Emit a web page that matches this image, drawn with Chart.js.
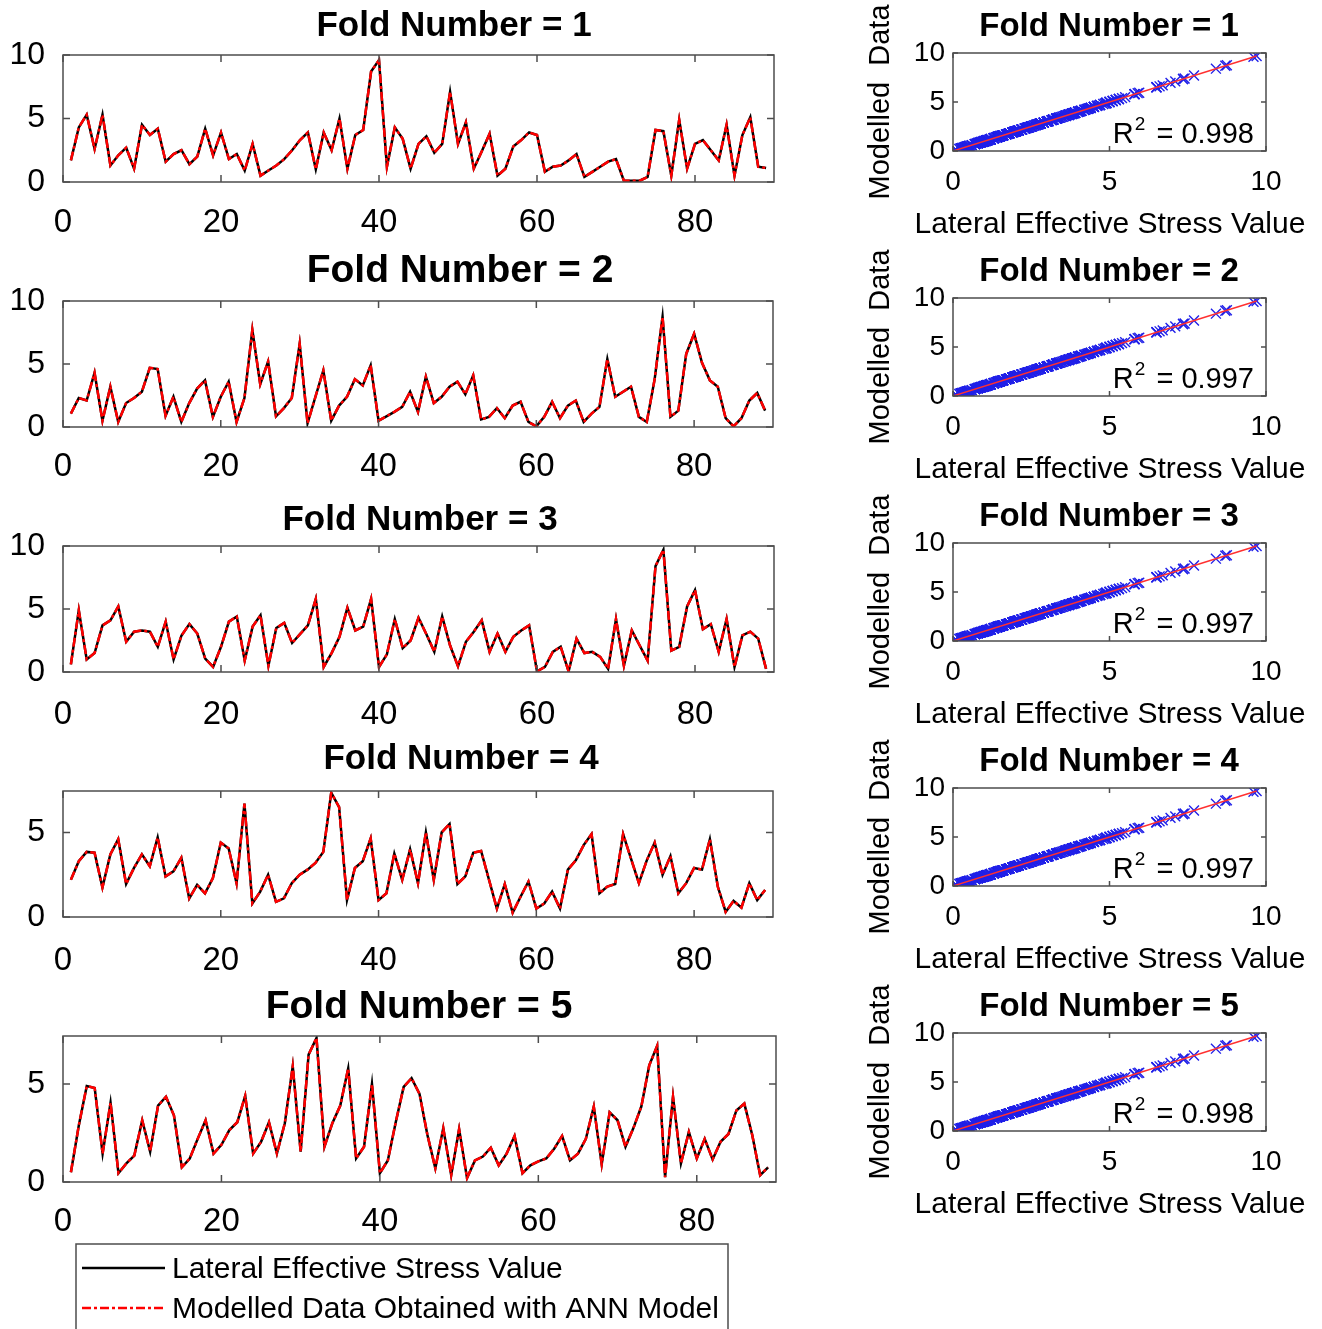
<!DOCTYPE html>
<html>
<head>
<meta charset="utf-8">
<title>Fold comparison</title>
<script src="https://cdn.jsdelivr.net/npm/chart.js@4.4.0/dist/chart.umd.min.js"></script>
<style>
  html, body { margin: 0; padding: 0; background: #fff; }
  #page { position: relative; width: 1322px; height: 1329px; overflow: hidden; background: #fff; }
  #page canvas { position: absolute; }
</style>
</head>
<body>
<div id="page"></div>
<script>
// sample number along the x axis of the left panels
const sampleIndex = Array.from({length: 89}, (_, i) => i + 1);

const stressFold1 = [1.7, 4.3, 5.3, 2.6, 5.3, 1.3, 2.1, 2.7, 1.05, 4.5, 3.7, 4.2, 1.6, 2.2, 2.5, 1.4, 2.0, 4.2, 2.1, 3.9,
    1.8, 2.2, 0.9, 3.0, 0.5, 0.9, 1.3, 1.8, 2.5, 3.3, 3.9, 1.0, 3.9, 2.5, 5.0, 1.05, 3.7, 4.1, 8.7, 9.6,
    1.2, 4.3, 3.4, 1.05, 3.0, 3.6, 2.3, 3.0, 7.1, 3.0, 4.7, 1.05, 2.4, 3.8, 0.5, 1.05, 2.8, 3.3, 3.9, 3.7,
    0.8, 1.2, 1.3, 1.7, 2.2, 0.4, 0.8, 1.2, 1.6, 1.8, 0.1, 0.1, 0.1, 0.4, 4.1, 4.0, 0.5, 4.9, 1.05, 3.0,
    3.3, 2.5, 1.7, 4.5, 0.5, 3.7, 5.1, 1.2, 1.1];
const stressFold2 = [1.06, 2.3, 2.1, 4.3, 0.5, 3.2, 0.4, 1.9, 2.3, 2.8, 4.7, 4.6, 0.9, 2.4, 0.4, 1.9, 3.05, 3.7, 0.8, 2.4,
    3.6, 0.4, 2.3, 7.7, 3.4, 5.2, 0.85, 1.5, 2.3, 6.6, 0.3, 2.4, 4.5, 0.5, 1.7, 2.4, 3.8, 3.3, 4.9, 0.5,
    0.85, 1.2, 1.6, 2.8, 1.2, 4.0, 1.9, 2.4, 3.2, 3.6, 2.6, 4.1, 0.6, 0.8, 1.5, 0.7, 1.7, 2.0, 0.4, 0.05,
    0.8, 2.0, 0.7, 1.7, 2.1, 0.4, 1.06, 1.6, 5.4, 2.4, 2.8, 3.2, 0.8, 0.4, 3.8, 8.75, 0.8, 1.3, 5.8, 7.4,
    5.1, 3.7, 3.2, 0.7, 0.05, 0.7, 2.1, 2.7, 1.3];
const stressFold3 = [0.6, 4.9, 1.0, 1.5, 3.7, 4.1, 5.2, 2.4, 3.2, 3.3, 3.2, 2.0, 4.0, 1.0, 2.9, 3.8, 3.05, 1.06, 0.4, 2.0,
    4.0, 4.4, 0.9, 3.6, 4.5, 0.5, 3.5, 3.9, 2.3, 3.0, 3.7, 5.8, 0.4, 1.5, 2.8, 5.1, 3.3, 3.6, 5.8, 0.4,
    1.4, 4.2, 1.9, 2.5, 4.3, 3.0, 1.6, 4.4, 2.1, 0.45, 2.4, 3.2, 4.1, 1.6, 3.05, 1.6, 2.8, 3.3, 3.7, 0.05,
    0.4, 1.6, 2.0, 0.05, 2.65, 1.5, 1.6, 1.2, 0.25, 4.2, 0.5, 3.3, 2.1, 0.9, 8.4, 9.7, 1.7, 2.0, 5.2, 6.5,
    3.4, 3.8, 1.6, 4.2, 0.4, 2.9, 3.2, 2.65, 0.25];
const stressFold4 = [2.2, 3.3, 3.85, 3.8, 1.75, 3.7, 4.6, 1.95, 2.9, 3.7, 3.0, 4.7, 2.4, 2.7, 3.5, 1.1, 1.9, 1.4, 2.3, 4.4,
    4.05, 2.0, 6.7, 0.8, 1.5, 2.5, 0.9, 1.1, 2.0, 2.5, 2.8, 3.2, 3.85, 7.35, 6.5, 1.0, 2.9, 3.3, 4.65, 1.0,
    1.4, 3.75, 2.2, 4.0, 2.0, 5.0, 2.2, 5.0, 5.5, 1.95, 2.4, 3.8, 3.9, 2.2, 0.5, 1.95, 0.25, 1.2, 2.1, 0.5,
    0.8, 1.5, 0.5, 2.8, 3.35, 4.25, 4.9, 1.4, 1.8, 1.95, 4.9, 3.45, 2.0, 3.35, 4.4, 2.5, 3.6, 1.4, 2.0, 2.9,
    2.8, 4.6, 1.8, 0.3, 0.95, 0.55, 2.0, 1.0, 1.6];
const stressFold5 = [0.5, 2.9, 4.9, 4.8, 1.45, 4.05, 0.45, 0.95, 1.35, 3.15, 1.55, 3.9, 4.35, 3.4, 0.75, 1.2, 2.2, 3.15, 1.45, 1.9,
    2.65, 3.05, 4.4, 1.45, 2.05, 3.05, 1.45, 3.0, 5.9, 1.55, 6.5, 7.35, 1.8, 3.0, 3.9, 5.8, 1.2, 1.8, 5.0, 0.45,
    1.1, 3.05, 4.85, 5.3, 4.5, 2.4, 0.7, 2.75, 0.35, 2.7, 0.2, 1.1, 1.3, 1.75, 0.85, 1.45, 2.35, 0.45, 0.85, 1.05,
    1.2, 1.7, 2.35, 1.1, 1.45, 2.2, 3.85, 0.9, 3.55, 3.15, 1.8, 2.75, 3.85, 5.95, 6.95, 0.25, 4.35, 0.95, 2.55, 1.2,
    2.2, 1.15, 2.05, 2.45, 3.65, 4.0, 2.4, 0.35, 0.75];

const stressFolds = [stressFold1, stressFold2, stressFold3, stressFold4, stressFold5];
// the ANN trace sits right on top of the measured one at this resolution
const modelledFolds = stressFolds;

const foldNumbers = [1, 2, 3, 4, 5];
const rSquared = [0.998, 0.997, 0.997, 0.997, 0.998];
const seriesXTicks = [0, 20, 40, 60, 80];
const seriesYTicks = [[0, 5, 10], [0, 5, 10], [0, 5, 10], [0, 5], [0, 5]];
const seriesYMax = [10, 10, 10, 7.45, 7.45];
const scatterTicks = [0, 5, 10];
const fitLineX = [0, 9.7];

const FONT = "'Liberation Sans', Arial, Helvetica, sans-serif";

// page positions of the left panels
const seriesLayout = [
    {top: 55, bottom: 182, right: 774, titleX: 454, titleY: 26, titleSize: 35, xLabelGap: 41},
    {top: 301, bottom: 427, right: 773, titleX: 460, titleY: 271, titleSize: 39, xLabelGap: 40},
    {top: 546, bottom: 672, right: 774, titleX: 420, titleY: 520, titleSize: 35, xLabelGap: 43},
    {top: 791, bottom: 917, right: 773, titleX: 461, titleY: 759, titleSize: 35, xLabelGap: 44},
    {top: 1036, bottom: 1182, right: 776, titleX: 419, titleY: 1007, titleSize: 39, xLabelGap: 40}
];
const scatterTops = [53, 298, 543, 788, 1033];

const framePlugin = {
    id: 'frame',
    afterDraw(chart, args, opts) {
        const {ctx, chartArea: a, scales} = chart;
        const t = opts.tick;
        ctx.save();
        ctx.strokeStyle = '#4d4d4d';
        ctx.lineWidth = 1.5;
        ctx.strokeRect(a.left, a.top, a.right - a.left, a.bottom - a.top);
        ctx.beginPath();
        scales.x.ticks.forEach(tk => {
            const px = scales.x.getPixelForValue(tk.value);
            ctx.moveTo(px, a.bottom); ctx.lineTo(px, a.bottom - t);
            ctx.moveTo(px, a.top); ctx.lineTo(px, a.top + t);
        });
        scales.y.ticks.forEach(tk => {
            const py = scales.y.getPixelForValue(tk.value);
            ctx.moveTo(a.left, py); ctx.lineTo(a.left + t, py);
            ctx.moveTo(a.right, py); ctx.lineTo(a.right - t, py);
        });
        ctx.stroke();
        ctx.restore();
    }
};

// titles and the scatter x caption, drawn without Chart.js squeezing them to the plot width
const panelTextPlugin = {
    id: 'panelText',
    afterDraw(chart, args, opts) {
        const ctx = chart.ctx;
        ctx.save();
        ctx.fillStyle = '#000';
        ctx.textAlign = 'center';
        ctx.textBaseline = 'middle';
        opts.items.forEach(item => {
            ctx.font = `${item.bold ? 'bold ' : ''}${item.size}px ${FONT}`;
            ctx.fillText(item.text, item.x, item.y);
        });
        ctx.restore();
    }
};

const rSquaredPlugin = {
    id: 'rSquared',
    afterDraw(chart, args, opts) {
        const {ctx, chartArea: a} = chart;
        const big = `29px ${FONT}`, small = `19px ${FONT}`;
        const rest = ' = ' + opts.value.toFixed(3);
        ctx.save();
        ctx.fillStyle = '#000';
        ctx.textAlign = 'left';
        ctx.textBaseline = 'alphabetic';
        ctx.font = big;
        const wR = ctx.measureText('R').width;
        const wRest = ctx.measureText(rest).width;
        ctx.font = small;
        const w2 = ctx.measureText('2').width;
        const x0 = a.right - 12 - (wR + w2 + 4 + wRest);
        const base = a.bottom - 8;
        ctx.font = big;
        ctx.fillText('R', x0, base);
        ctx.font = small;
        ctx.fillText('2', x0 + wR + 1, base - 13);
        ctx.font = big;
        ctx.fillText(rest, x0 + wR + w2 + 4, base);
        ctx.restore();
    }
};

const legendBoxPlugin = {
    id: 'legendBox',
    afterDraw(chart, args, opts) {
        const ctx = chart.ctx;
        const oy = opts.offsetY;
        ctx.save();
        ctx.strokeStyle = '#4d4d4d';
        ctx.lineWidth = 1.5;
        ctx.strokeRect(76, 1244 - oy, 652, 140);
        ctx.font = `30px ${FONT}`;
        ctx.fillStyle = '#000';
        ctx.textBaseline = 'middle';
        // entries in the order of the legend: measured first, then modelled
        [0, 1].forEach((dsIndex, row) => {
            const ds = chart.data.datasets[dsIndex];
            const y = 1268 + row * 40 - oy;
            ctx.save();
            ctx.strokeStyle = ds.borderColor;
            ctx.lineWidth = ds.borderWidth;
            ctx.setLineDash(ds.borderDash || []);
            ctx.beginPath();
            ctx.moveTo(82, y);
            ctx.lineTo(165, y);
            ctx.stroke();
            ctx.restore();
            ctx.fillText(ds.label, 172, y + 2);
        });
        ctx.restore();
    }
};

function makeCanvas(left, top, width, height) {
    const c = document.createElement('canvas');
    c.width = width;
    c.height = height;
    c.style.left = left + 'px';
    c.style.top = top + 'px';
    c.style.width = width + 'px';
    c.style.height = height + 'px';
    document.getElementById('page').appendChild(c);
    return c;
}

function fixedTicks(values) {
    return scale => { scale.ticks = values.map(v => ({value: v})); };
}

function drawFoldSeries(k) {
    const lay = seriesLayout[k];
    const padTop = 60, axisHeight = 70, axisWidth = 63, canvasWidth = 800;
    const canvasTop = lay.top - padTop;
    let height = padTop + (lay.bottom - lay.top) + axisHeight;
    let extraBottom = 0;
    const withLegend = k === stressFolds.length - 1;
    if (withLegend) {
        extraBottom = 1329 - canvasTop - height;
        height = 1329 - canvasTop;
    }
    const canvas = makeCanvas(0, canvasTop, canvasWidth, height);
    const chartPlugins = [framePlugin, panelTextPlugin];
    if (withLegend) chartPlugins.push(legendBoxPlugin);

    new Chart(canvas, {
        type: 'line',
        data: {
            labels: sampleIndex,
            datasets: [{
                label: 'Lateral Effective Stress Value',
                data: stressFolds[k],
                borderColor: '#000000',
                borderWidth: 2.5,
                pointRadius: 0,
                tension: 0,
                order: 1
            }, {
                label: 'Modelled Data Obtained with ANN Model',
                data: modelledFolds[k],
                borderColor: '#ff0000',
                borderWidth: 2.5,
                borderDash: [9, 3, 3, 3],
                pointRadius: 0,
                tension: 0,
                order: 0
            }]
        },
        options: {
            responsive: false,
            animation: false,
            events: [],
            layout: {padding: {top: padTop, right: canvasWidth - lay.right, bottom: extraBottom, left: 0}},
            scales: {
                x: {
                    type: 'linear', min: 0, max: 90,
                    afterBuildTicks: fixedTicks(seriesXTicks),
                    afterFit: s => { s.height = axisHeight; },
                    grid: {display: false, drawTicks: false},
                    border: {display: false},
                    ticks: {padding: lay.xLabelGap - 19.8, color: '#000', autoSkip: false, maxRotation: 0,
                        font: {family: FONT, size: 33}}
                },
                y: {
                    type: 'linear', min: 0, max: seriesYMax[k],
                    afterBuildTicks: fixedTicks(seriesYTicks[k]),
                    afterFit: s => { s.width = axisWidth; },
                    grid: {display: false, drawTicks: false},
                    border: {display: false},
                    ticks: {padding: 18, color: '#000', font: {family: FONT, size: 32}}
                }
            },
            plugins: {
                legend: {display: false},
                tooltip: {enabled: false},
                frame: {tick: 7},
                panelText: {items: [{text: 'Fold Number = ' + foldNumbers[k], x: lay.titleX, y: lay.titleY - canvasTop,
                    size: lay.titleSize, bold: true}]},
                legendBox: {offsetY: canvasTop}
            }
        },
        plugins: chartPlugins
    });
}

function drawFoldScatter(k) {
    const padTop = 53, plotHeight = 98, axisHeight = 95, axisWidth = 93;
    const canvasLeft = 860, canvasWidth = 462, plotRight = 1266;
    const canvasTop = scatterTops[k] - padTop;
    const canvas = makeCanvas(canvasLeft, canvasTop, canvasWidth, padTop + plotHeight + axisHeight);

    const allStress = [].concat(...stressFolds);
    const allModelled = [].concat(...modelledFolds);
    const points = allStress.map((v, i) => ({x: v, y: allModelled[i]}));
    const fitLine = fitLineX.map(v => ({x: v, y: v}));

    new Chart(canvas, {
        type: 'scatter',
        data: {
            datasets: [{
                type: 'line',
                data: fitLine,
                borderColor: '#ff3030',
                borderWidth: 1.5,
                pointRadius: 0,
                order: 0
            }, {
                data: points,
                borderColor: '#2020e8',
                backgroundColor: '#2020e8',
                pointStyle: 'crossRot',
                pointRadius: 7,
                borderWidth: 1.4,
                order: 1
            }]
        },
        options: {
            responsive: false,
            animation: false,
            events: [],
            layout: {padding: {top: padTop, right: canvasLeft + canvasWidth - plotRight, bottom: 0, left: 0}},
            scales: {
                x: {
                    type: 'linear', min: 0, max: 10,
                    afterBuildTicks: fixedTicks(scatterTicks),
                    afterFit: s => { s.height = axisHeight; },
                    grid: {display: false, drawTicks: false},
                    border: {display: false},
                    ticks: {padding: 14, color: '#000', autoSkip: false, maxRotation: 0, font: {family: FONT, size: 28}}
                },
                y: {
                    type: 'linear', min: 0, max: 10,
                    afterBuildTicks: fixedTicks(scatterTicks),
                    afterFit: s => { s.width = axisWidth; },
                    grid: {display: false, drawTicks: false},
                    border: {display: false},
                    ticks: {padding: 8, color: '#000', font: {family: FONT, size: 28}},
                    title: {display: true, text: 'Modelled  Data', color: '#000',
                        font: {family: FONT, size: 29}, padding: {top: 4, bottom: 0}}
                }
            },
            plugins: {
                legend: {display: false},
                tooltip: {enabled: false},
                frame: {tick: 5},
                panelText: {items: [
                    {text: 'Fold Number = ' + foldNumbers[k], x: 1109 - canvasLeft, y: 26.5, size: 33, bold: true},
                    {text: 'Lateral Effective Stress Value', x: 1110 - canvasLeft, y: padTop + plotHeight + 74, size: 30}
                ]},
                rSquared: {value: rSquared[k]}
            }
        },
        plugins: [framePlugin, panelTextPlugin, rSquaredPlugin]
    });
}

stressFolds.forEach((_, k) => {
    drawFoldSeries(k);
    drawFoldScatter(k);
});
</script>
</body>
</html>
